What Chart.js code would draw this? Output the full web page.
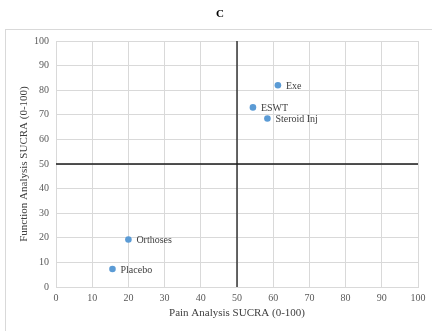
<!DOCTYPE html>
<html>
<head>
<meta charset="utf-8">
<script src="https://cdn.jsdelivr.net/npm/chart.js@4"></script>
<style>
  html, body { margin: 0; padding: 0; background: #ffffff; }
  #wrap { position: relative; width: 432px; height: 331px; }
  #panel {
    position: absolute; left: 200px; width: 40px; top: 5px;
    text-align: center; font: bold 11px 'Liberation Serif', 'Times New Roman', serif;
    color: #000000; line-height: 16px;
  }
  canvas { position: absolute; left: 0; top: 0; }
</style>
</head>
<body>
<div id="wrap">
  <canvas id="sucraChart" width="432" height="331"></canvas>
  <div id="panel">C</div>
</div>
<script>
// treatments and their SUCRA scores (pain on x, function on y)
const treatments = ['Exe', 'ESWT', 'Steroid Inj', 'Orthoses', 'Placebo'];
const painSucra = [61.3, 54.4, 58.4, 20.0, 15.6];
const functionSucra = [82.0, 73.0, 68.5, 19.3, 7.3];
const axisTicks = [0, 10, 20, 30, 40, 50, 60, 70, 80, 90, 100];
const splitValue = 50;

const serif = "'Liberation Serif', 'Times New Roman', serif";

const points = treatments.map((name, i) => ({ x: painSucra[i], y: functionSucra[i], label: name }));

// light grey chart frame, runs off the right and bottom edges
const framePlugin = {
    id: 'frame',
    beforeDraw(chart) {
        const ctx = chart.ctx;
        ctx.save();
        ctx.strokeStyle = '#d9d9d9';
        ctx.lineWidth = 1;
        ctx.strokeRect(5.5, 29.5, 440, 320);
        ctx.restore();
    }
};

// names next to each dot
const pointLabels = {
    id: 'pointLabels',
    afterDatasetsDraw(chart) {
        const meta = chart.getDatasetMeta(2);
        const ctx = chart.ctx;
        ctx.save();
        ctx.font = '10px ' + serif;
        ctx.fillStyle = '#404040';
        ctx.textBaseline = 'middle';
        ctx.textAlign = 'left';
        meta.data.forEach((pt, i) => {
            ctx.fillText(points[i].label, pt.x + 8, pt.y + 1);
        });
        ctx.restore();
    }
};

const ctx = document.getElementById('sucraChart').getContext('2d');
const sucraChart = new Chart(ctx, {
    type: 'scatter',
    data: {
        datasets: [
            {
                // vertical divider
                data: [{ x: splitValue, y: 0 }, { x: splitValue, y: 100 }],
                showLine: true,
                borderColor: '#1a1a1a',
                borderWidth: 1.3,
                pointRadius: 0
            },
            {
                // horizontal divider
                data: [{ x: 0, y: splitValue }, { x: 100, y: splitValue }],
                showLine: true,
                borderColor: '#1a1a1a',
                borderWidth: 1.3,
                pointRadius: 0
            },
            {
                data: points,
                backgroundColor: '#5b9bd5',
                borderColor: '#5b9bd5',
                pointRadius: 3.3,
                borderWidth: 0
            }
        ]
    },
    options: {
        responsive: false,
        animation: false,
        layout: { padding: { left: 6, right: 14, top: 41, bottom: 5 } },
        plugins: {
            legend: { display: false },
            tooltip: { enabled: false },
            title: { display: false }
        },
        scales: {
            x: {
                type: 'linear',
                min: 0,
                max: 100,
                afterBuildTicks: scale => { scale.ticks = axisTicks.map(v => ({ value: v })); },
                afterFit: scale => { scale.height = 39; },
                grid: { color: '#d9d9d9', drawTicks: false },
                border: { color: '#d9d9d9' },
                ticks: { color: '#595959', padding: 5, font: { family: serif, size: 10 } },
                title: {
                    display: true,
                    text: 'Pain Analysis SUCRA (0-100)',
                    color: '#404040',
                    font: { family: serif, size: 11 },
                    padding: { top: 0, bottom: 6 }
                }
            },
            y: {
                type: 'linear',
                min: 0,
                max: 100,
                afterBuildTicks: scale => { scale.ticks = axisTicks.map(v => ({ value: v })); },
                afterFit: scale => { scale.width = 50; },
                grid: { color: '#d9d9d9', drawTicks: false },
                border: { color: '#d9d9d9' },
                ticks: { color: '#595959', padding: 7, font: { family: serif, size: 10 } },
                title: {
                    display: true,
                    text: 'Function Analysis SUCRA (0-100)',
                    color: '#404040',
                    font: { family: serif, size: 11 },
                    padding: { top: 12, bottom: 0 }
                }
            }
        }
    },
    plugins: [framePlugin, pointLabels]
});
</script>
</body>
</html>
